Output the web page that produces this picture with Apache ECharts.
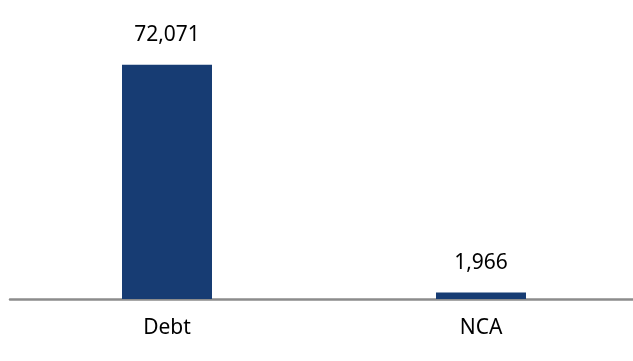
<!DOCTYPE html>
<html><head><meta charset="utf-8">
<script src="https://cdn.jsdelivr.net/npm/echarts@6/dist/echarts.min.js"></script>
<style>html,body{margin:0;padding:0;background:#fff;overflow:hidden;width:633px;height:361px}#c{width:641px;height:361px}</style>
</head><body><div id="c"></div>
<script>
const categories = ['Debt', 'NCA'];
const values = [72071, 1966];
const chart = echarts.init(document.getElementById('c'));
chart.setOption({
  animation: false,
  grid: { left: 10, right: 3, top: 39, bottom: 62 },
  xAxis: {
    type: 'category', data: categories,
    axisLine: { lineStyle: { color: '#8c8c8c', width: 2.5 } },
    axisTick: { show: false },
    axisLabel: { color: '#000', fontSize: 21, fontFamily: 'Noto Sans', margin: 19 }
  },
  yAxis: { type: 'value', min: 0, max: 80000, show: false, splitLine: { show: false } },
  series: [{
    type: 'bar', data: values, barWidth: 90,
    itemStyle: { color: '#173c73' },
    label: { show: true, position: 'top', distance: 19, color: '#000', fontSize: 21, fontFamily: 'Noto Sans',
      formatter: p => p.value.toLocaleString('en-US') }
  }]
});
</script></body></html>
